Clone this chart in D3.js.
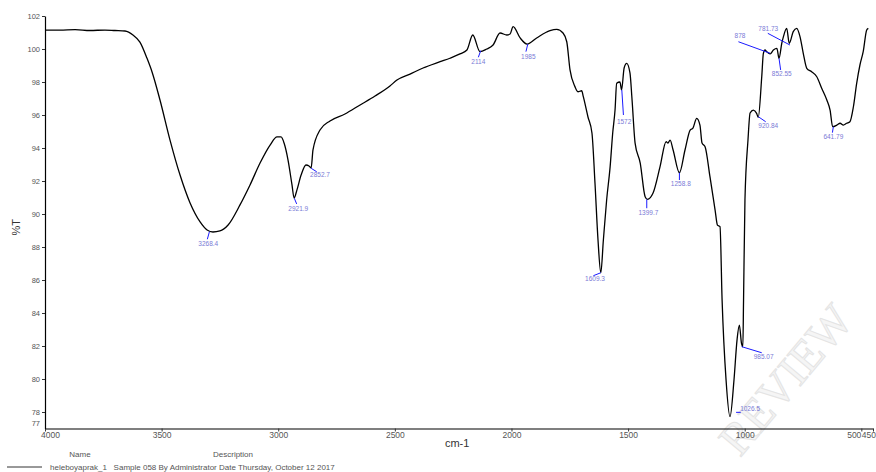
<!DOCTYPE html>
<html>
<head>
<meta charset="utf-8">
<script src="https://cdn.jsdelivr.net/npm/d3@7"></script>
<style>
  html, body { margin: 0; padding: 0; background: #fff; }
  svg { display: block; font-family: "Liberation Sans", Arial, sans-serif; }
</style>
</head>
<body>
<svg id="chart" width="876" height="472"></svg>
<script>
// ---- Data ----
const wavenumber = [4000,3936,3871,3807,3743,3700,3657,3623,3593,3563,3541,3507,3464,3421,3378,3335,3305,3280,3250,3215,3164,3121,3078,3035,3005,2988,2975,2958,2941,2932,2920,2902,2881,2868,2859,2851,2821,2778,2714,2649,2585,2521,2491,2435,2379,2306,2264,2221,2191,2166,2135,2106,2079,2049,2020,2006,1993,1963,1933,1892,1835,1806,1779,1763,1749,1728,1715,1699,1692,1672,1655,1642,1629,1617,1606,1592,1577,1566,1556,1549,1535,1528,1517,1506,1492,1483,1470,1448,1427,1417,1393,1363,1337,1329,1320,1307,1280,1256,1234,1222,1206,1192,1183,1170,1149,1127,1117,1106,1097,1080,1063,1046,1033,1023,1014,1008,1005,999,986,977,963,949,942,927,920,913,906,891,877,862,853,841,834,820,809,792,777,763,749,734,713,691,670,648,634,623,605,591,577,563,549,534,520,506,492,477,470];
const transmittance = [101.15,101.15,101.18,101.12,101.15,101.12,101.09,100.85,100.42,99.45,98.61,96.91,94.48,92.36,90.67,89.52,89.03,88.91,88.97,89.33,90.55,91.76,93.09,94.18,94.67,94.67,94.30,93.27,91.76,90.97,91.45,92.36,92.97,92.91,92.79,93.88,95.09,95.64,96.06,96.61,97.15,97.76,98.12,98.48,98.85,99.23,99.44,99.70,99.94,100.85,99.84,100.00,100.24,100.97,100.85,100.91,101.35,100.67,100.30,100.67,101.11,101.19,100.97,100.44,98.73,97.72,97.41,97.47,97.11,95.88,94.91,91.88,88.42,86.44,88.42,90.85,92.87,94.91,96.30,97.92,98.00,97.52,98.85,99.13,98.55,96.91,94.30,93.09,91.05,90.89,91.27,92.87,94.38,94.30,94.48,93.88,92.50,93.88,95.09,95.21,95.80,95.39,94.30,94.08,92.26,90.24,89.33,89.23,84.79,79.94,77.72,79.94,82.36,83.27,82.18,81.96,84.79,90.85,94.48,96.12,96.30,96.10,95.86,98.32,99.74,99.94,99.84,99.70,99.94,100.04,99.44,100.35,100.75,101.25,100.35,101.05,101.25,100.75,99.74,98.83,98.62,98.32,97.62,96.91,96.30,95.29,95.39,95.50,95.39,95.50,95.59,96.50,97.92,99.03,99.84,101.15,101.25];

// Peak annotations: label text, point on curve, end of leader, text centre (data units)
const peakText   = ["3268.4","2921.9","2852.7","2114","1985","1572","1609.3","1399.7","1258.8","1026.5","985.07","920.84","878","852.55","781.73","641.79"];
const peakWn     = [3295,2931,2859,2132,1930,1527,1617,1420,1280,1037,1013,942,891,853,806,620];
const peakT      = [88.93,90.95,92.77,99.90,100.30,97.52,86.44,90.89,92.50,77.98,81.96,95.90,99.74,99.44,100.24,95.29];
const leaderWn   = [3304,2921,2835,2142,1938,1520,1649,1420,1280,1017,927,910,1027,846,901,624];
const leaderT    = [88.47,90.61,92.56,99.50,99.84,96.00,86.26,90.35,92.06,77.98,81.59,95.59,100.44,98.73,100.95,94.93];
const labelWn    = [3300,2914,2821,2142,1928,1517,1642,1413,1274,977,919,899,1020,841,899,620];
const labelT     = [88.21,90.35,92.39,99.23,99.53,95.59,86.09,90.08,91.82,78.18,81.32,95.36,100.82,98.52,101.24,94.67];

const xTickValues = [4000,3500,3000,2500,2000,1500,1000,500,450];
const yTickValues = [78,80,82,84,86,88,90,92,94,96,98,100,102];
const yBottomLabel = 77;

const xTitle = "cm-1";
const yTitle = "%T";
const legendName = "Name";
const legendDesc = "Description";
const legendSample = "heleboyaprak_1";
const legendText = "Sample 058 By Administrator Date Thursday, October 12 2017";
const watermark = "REVIEW";

// ---- Layout ----
const svg = d3.select("#chart");
const x = d3.scaleLinear().domain([4000, 450]).range([45, 873]);
const y = d3.scaleLinear().domain([77, 102]).range([428.5, 16]);

// faint watermark (kept inside the picture)
svg.append("text")
  .attr("transform", "translate(740,458) rotate(-50)")
  .attr("font-size", 46)
  .attr("font-family", "Liberation Serif, serif")
  .attr("fill", "#f5f5f5")
  .attr("stroke", "#e4e4e4")
  .attr("stroke-width", 1)
  .text(watermark);

// axes
const gx = svg.append("g").attr("transform", `translate(0,${y.range()[0]})`)
  .call(d3.axisBottom(x).tickValues(xTickValues).tickSize(3).tickSizeOuter(0).tickFormat(d3.format("d")));
gx.select(".domain").attr("stroke", "#000").attr("stroke-width", 1.2);
gx.selectAll(".tick line").attr("stroke", "#333");
gx.selectAll(".tick text").attr("font-size", 8.5).attr("fill", "#555")
  .attr("font-family", "Liberation Sans, Arial, sans-serif").attr("dy", "0.45em");
gx.selectAll(".tick text").filter(d => d === 4000).attr("dx", 5);
gx.selectAll(".tick text").filter(d => d === 500).attr("text-anchor", "end").attr("dx", -0.5);
gx.selectAll(".tick text").filter(d => d === 450).attr("text-anchor", "end").attr("dx", 2.5);

const gy = svg.append("g").attr("transform", `translate(${x.range()[0]},0)`)
  .call(d3.axisLeft(y).tickValues(yTickValues).tickSize(3).tickSizeOuter(0).tickPadding(2));
gy.select(".domain").attr("stroke", "#000").attr("stroke-width", 1.2);
gy.selectAll(".tick line").attr("stroke", "#333");
gy.selectAll(".tick text").attr("font-size", 7.5).attr("fill", "#555")
  .attr("font-family", "Liberation Sans, Arial, sans-serif");
gy.append("text")
  .attr("x", -5).attr("y", y(yBottomLabel) - 3)
  .attr("text-anchor", "end").attr("font-size", 7.5).attr("fill", "#555")
  .attr("font-family", "Liberation Sans, Arial, sans-serif")
  .text(yBottomLabel);

// axis titles
svg.append("text")
  .attr("transform", `translate(20,${y(89.2)}) rotate(-90)`)
  .attr("text-anchor", "middle").attr("font-size", 11).attr("fill", "#333")
  .text(yTitle);
svg.append("text")
  .attr("x", (x(2500) + x(2000)) / 2 + 4).attr("y", 447)
  .attr("text-anchor", "middle").attr("font-size", 11).attr("fill", "#333")
  .text(xTitle);

// spectrum
const pts = wavenumber.map((w, i) => [x(w), y(transmittance[i])]);
svg.append("path")
  .attr("d", d3.line().curve(d3.curveMonotoneX)(pts))
  .attr("fill", "none").attr("stroke", "#000").attr("stroke-width", 1.3)
  .attr("stroke-linejoin", "round");

// peak annotations
const ann = svg.append("g");
peakText.forEach((t, i) => {
  ann.append("line")
    .attr("x1", x(peakWn[i])).attr("y1", y(peakT[i]))
    .attr("x2", x(leaderWn[i])).attr("y2", y(leaderT[i]))
    .attr("stroke", "#1a1aff").attr("stroke-width", 1);
  ann.append("text")
    .attr("x", x(labelWn[i])).attr("y", y(labelT[i]))
    .attr("dy", "0.35em").attr("text-anchor", "middle")
    .attr("font-size", 6.5).attr("fill", "#7a7ad6")
    .text(t);
});

// legend
svg.append("text").attr("x", 80).attr("y", 457).attr("text-anchor", "middle")
  .attr("font-size", 8).attr("fill", "#555").text(legendName);
svg.append("text").attr("x", 233).attr("y", 457).attr("text-anchor", "middle")
  .attr("font-size", 8).attr("fill", "#555").text(legendDesc);
svg.append("line").attr("x1", 7).attr("x2", 42).attr("y1", 467).attr("y2", 467)
  .attr("stroke", "#333").attr("stroke-width", 1);
svg.append("text").attr("x", 50).attr("y", 469.5)
  .attr("font-size", 8).attr("fill", "#555")
  .attr("xml:space", "preserve")
  .text(legendSample + "   " + legendText);
</script>
</body>
</html>
